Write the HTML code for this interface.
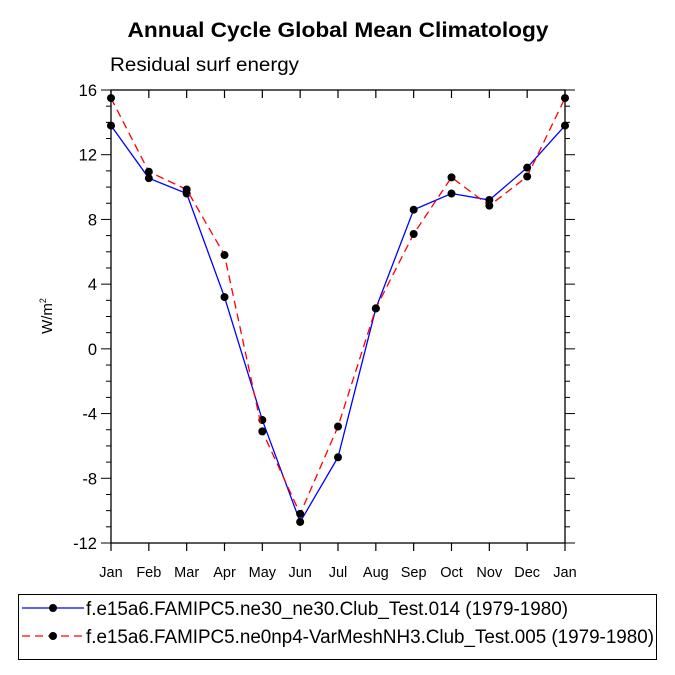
<!DOCTYPE html>
<html><head><meta charset="utf-8"><style>body{margin:0;background:#fff}svg{display:block;font-family:"Liberation Sans",Arial,sans-serif}</style></head>
<body>
<svg id="chart" width="675" height="675" viewBox="0 0 675 675" xmlns="http://www.w3.org/2000/svg">
<text x="338" y="37" text-anchor="middle" font-size="21" font-weight="bold" textLength="421" lengthAdjust="spacingAndGlyphs">Annual Cycle Global Mean Climatology</text>
<text x="110" y="71" font-size="19" textLength="189" lengthAdjust="spacingAndGlyphs">Residual surf energy</text>
<text transform="translate(52,316) rotate(-90)" text-anchor="middle" font-size="15">W/m<tspan font-size="9" dy="-6">2</tspan></text>
<g id="axes"></g>
<g id="series"></g>
<g>
<rect x="18.5" y="594.5" width="638" height="65" fill="none" stroke="#000" stroke-width="1"/>
<g>
<line x1="22" y1="608" x2="84" y2="608" stroke="#0000ff" stroke-width="1.3"/><circle cx="53" cy="608" r="4" fill="#000"/>
<text x="86" y="615" font-size="19" textLength="482" lengthAdjust="spacingAndGlyphs">f.e15a6.FAMIPC5.ne30_ne30.Club_Test.014 (1979-1980)</text></g>
<g>
<line x1="22" y1="636" x2="84" y2="636" stroke="#ff0000" stroke-width="1.3" stroke-dasharray="8,5"/><circle cx="53" cy="636" r="4" fill="#000"/>
<text x="86" y="643" font-size="19" textLength="568" lengthAdjust="spacingAndGlyphs">f.e15a6.FAMIPC5.ne0np4-VarMeshNH3.Club_Test.005 (1979-1980)</text></g>
</g>
</svg>
<script>
const months = ["Jan","Feb","Mar","Apr","May","Jun","Jul","Aug","Sep","Oct","Nov","Dec","Jan"];
const seriesTest014 = [13.8,10.55,9.6,3.2,-4.4,-10.7,-6.7,2.5,8.6,9.6,9.2,11.2,13.8];
const seriesTest005 = [15.5,10.95,9.85,5.8,-5.1,-10.2,-4.8,2.5,7.1,10.6,8.85,10.65,15.5];
const yTicks = [16,12,8,4,0,-4,-8,-12];
const yMin=-12,yMax=16;
const L=111,R=565,T=90,B=543;
const NS="http://www.w3.org/2000/svg";
const xS=i=>L+(R-L)*i/(months.length-1);
const yS=v=>B-(B-T)*(v-yMin)/(yMax-yMin);
function mk(tag,attrs,parent){const e=document.createElementNS(NS,tag);for(const k in attrs)e.setAttribute(k,attrs[k]);parent.appendChild(e);return e;}
const ax=document.getElementById('axes');
const frame=mk('rect',{x:L,y:T,width:R-L,height:B-T,fill:'none',stroke:'#000','stroke-width':1.3},ax);


months.forEach((m,i)=>{
  const x=xS(i);
  mk('line',{x1:x,y1:T,x2:x,y2:T+8,stroke:'#000','stroke-width':1.2},ax);
  mk('line',{x1:x,y1:B,x2:x,y2:B+8,stroke:'#000','stroke-width':1.2},ax);
  const t=mk('text',{x:x,y:B+34,'text-anchor':'middle','font-size':14.5},ax);
  t.textContent=m;
  
  
});
for(let v=yMin;v<=yMax;v++){
  const y=yS(v);const major=yTicks.includes(v);const len=major?10:5;
  mk('line',{x1:L-len,y1:y,x2:L,y2:y,stroke:'#000','stroke-width':1},ax);
  mk('line',{x1:R,y1:y,x2:R+len,y2:y,stroke:'#000','stroke-width':1},ax);
}
yTicks.forEach(v=>{
  const t=mk('text',{x:L-14,y:yS(v)+6,'text-anchor':'end','font-size':16.5},ax);
  t.textContent=v;
  
  
});
const sg=document.getElementById('series');
function draw(vals,color,dash,name){
  const g=mk('g',{},sg);
  
  
  const a={points:vals.map((v,i)=>xS(i)+','+yS(v)).join(' '),fill:'none',stroke:color,'stroke-width':1.3};
  if(dash)a['stroke-dasharray']=dash;
  mk('polyline',a,g);
  vals.forEach((v,i)=>{
    const c=mk('circle',{cx:xS(i),cy:yS(v),r:4,fill:'#000'},g);
    
    
  });
}
draw(seriesTest014,'#0000ff',null,'series-test014');
draw(seriesTest005,'#ff0000','8,5','series-test005');
</script>
</body></html>
